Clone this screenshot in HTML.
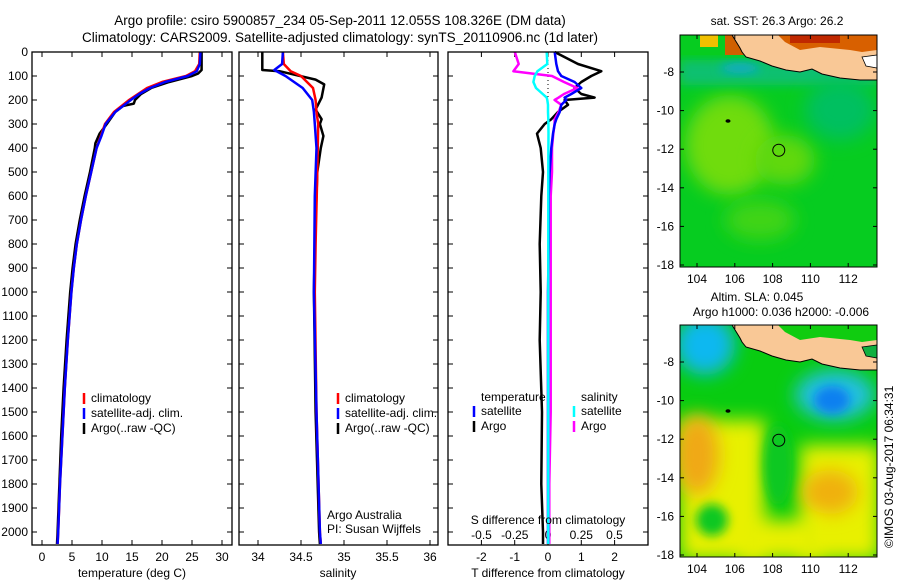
<!DOCTYPE html>
<html><head><meta charset="utf-8"><style>
body{margin:0;background:#fff;}
svg{display:block;font-family:"Liberation Sans",sans-serif;}
</style></head><body>
<svg id="c" width="900" height="580" viewBox="0 0 900 580">
<defs>
<filter id="bl" x="-50%" y="-50%" width="200%" height="200%"><feGaussianBlur stdDeviation="9"/></filter>
<filter id="bl2" x="-50%" y="-50%" width="200%" height="200%"><feGaussianBlur stdDeviation="5"/></filter>
<clipPath id="m1"><rect x="680" y="35" width="197" height="232"/></clipPath>
<clipPath id="m2"><rect x="680" y="325" width="197" height="232"/></clipPath>
</defs>
<text x="340" y="25" font-size="13.5" text-anchor="middle">Argo profile: csiro 5900857_234 05-Sep-2011 12.055S 108.326E (DM data)</text>
<text x="340" y="42" font-size="13.5" text-anchor="middle">Climatology: CARS2009. Satellite-adjusted climatology: synTS_20110906.nc (1d later)</text>
<g id="g1"></g>
<g id="g2"></g>
<g id="g3"></g>
<g id="map1" clip-path="url(#m1)">
<rect x="680" y="35" width="197" height="232" fill="#06cc20"/>
<ellipse cx="730" cy="145" rx="45" ry="50" fill="#70dc10" filter="url(#bl)"/>
<ellipse cx="785" cy="160" rx="30" ry="25" fill="#60d810" filter="url(#bl)"/>
<ellipse cx="760" cy="220" rx="35" ry="20" fill="#40d418" filter="url(#bl)"/>
<rect x="680" y="60" width="197" height="25" fill="#08c070" filter="url(#bl2)"/>
<ellipse cx="840" cy="110" rx="35" ry="30" fill="#05c060" filter="url(#bl)"/>
<ellipse cx="740" cy="68" rx="20" ry="5" fill="#10a8d0" filter="url(#bl2)"/>
<rect x="680" y="35" width="197" height="20" fill="#d06000"/>
<rect x="680" y="35" width="45" height="20" fill="#06cc20"/>
<rect x="700" y="35" width="18" height="12" fill="#f0c000"/>
<rect x="770" y="35" width="80" height="10" fill="#c03000"/>
</g>
<g id="map2" clip-path="url(#m2)">
<rect x="680" y="325" width="197" height="232" fill="#08cc10"/>
<rect x="680" y="420" width="85" height="140" fill="#e8f000" filter="url(#bl)"/>
<ellipse cx="697" cy="455" rx="22" ry="40" fill="#f0a818" filter="url(#bl)"/>
<rect x="800" y="445" width="80" height="115" fill="#e8f000" filter="url(#bl)"/>
<ellipse cx="830" cy="492" rx="28" ry="22" fill="#f0b010" filter="url(#bl)"/>
<rect x="740" y="520" width="80" height="40" fill="#e8f000" filter="url(#bl)"/>
<ellipse cx="712" cy="520" rx="16" ry="16" fill="#08c820" filter="url(#bl2)"/>
<ellipse cx="778" cy="465" rx="14" ry="40" fill="#08c820" filter="url(#bl2)"/>
<ellipse cx="835" cy="395" rx="40" ry="25" fill="#20c0e0" filter="url(#bl)"/>
<ellipse cx="832" cy="400" rx="18" ry="14" fill="#1080f0" filter="url(#bl2)"/>
<ellipse cx="705" cy="345" rx="30" ry="30" fill="#10b8f0" filter="url(#bl)"/>
</g>
<g id="maps-fg"></g>
<text transform="translate(893,548) rotate(-90)" font-size="12">©IMOS 03-Aug-2017 06:34:31</text>
</svg>
<script>
const NS="http://www.w3.org/2000/svg";
function mk(tag,attrs,parent,txt){const e=document.createElementNS(NS,tag);for(const k in attrs)e.setAttribute(k,attrs[k]);if(txt!==undefined)e.textContent=txt;parent.appendChild(e);return e;}

// ---- data ----
const depthTicks=[0,100,200,300,400,500,600,700,800,900,1000,1100,1200,1300,1400,1500,1600,1700,1800,1900,2000];
const tempTicks=[0,5,10,15,20,25,30];
const salTicks=[34,34.5,35,35.5,36];
const salTickLabels=["34","34.5","35","35.5","36"];
const tdTicks=[-2,-1,0,1,2];
const sdTicks=[-0.5,-0.25,0,0.25,0.5];
const sdTickLabels=["-0.5","-0.25","0","0.25","0.5"];

const tClimDepth=[0,50,80,100,125,150,175,200,250,300,350,400,500,600,700,800,900,1000,1200,1400,1600,1800,2000,2050];
const tClim=[26.3,26.2,25.5,24,20,17.5,16,14.5,12,10.5,9.8,9.1,8.2,7.3,6.5,5.8,5.3,4.9,4.3,3.8,3.4,3.0,2.7,2.6];
const tSat=[26.4,26.3,25.8,24.3,20.5,18,16.2,14.8,12.2,10.6,9.9,9.1,8.2,7.3,6.5,5.8,5.3,4.9,4.3,3.8,3.4,3.0,2.7,2.6];
const tArgoDepth=[0,75,90,100,125,150,175,200,215,225,250,300,340,380,400,500,600,700,800,900,1000,1200,1400,1600,1800,2000,2050];
const tArgo=[26.6,26.6,26.0,25,21.2,18.2,16.5,15.5,15.3,13.5,12.2,10.8,9.6,8.9,8.8,8.0,7.1,6.3,5.6,5.1,4.7,4.1,3.6,3.2,2.9,2.6,2.5];

const sClimDepth=[0,50,80,100,150,200,250,300,500,800,1000,1500,2000,2050];
const sClim=[34.29,34.30,34.38,34.5,34.64,34.67,34.68,34.70,34.69,34.67,34.66,34.68,34.72,34.73];
const sSatDepth=[0,50,75,100,150,200,250,300,400,600,1000,1500,2000,2050];
const sSat=[34.29,34.28,34.19,34.32,34.52,34.63,34.65,34.66,34.68,34.66,34.65,34.68,34.72,34.73];
const sArgoDepth=[0,75,80,115,135,190,240,280,300,350,400,500,800,1000,1500,2000,2050];
const sArgo=[34.05,34.05,34.25,34.67,34.77,34.74,34.67,34.74,34.72,34.76,34.73,34.69,34.66,34.65,34.67,34.71,34.72];

const dDepth=[0,50,80,100,125,150,175,190,200,220,250,280,300,340,400,500,600,800,1000,1200,1500,1800,2000,2050];
const dTSat=[0.2,0.25,0.3,0.4,0.8,1.0,0.7,0.5,0.55,0.4,0.35,0.25,0.2,0.15,0.1,0.05,0.02,0.02,0.0,0.0,0.0,0.0,0.0,0.0];
const dTArgo=[0.2,0.9,1.6,1.3,1.0,0.8,1.0,1.4,0.5,0.6,0.3,0.1,-0.1,-0.33,-0.22,-0.15,-0.2,-0.25,-0.22,-0.25,-0.18,-0.2,-0.15,-0.15];
const dSSat=[-0.01,-0.005,-0.08,-0.1,-0.11,-0.09,-0.04,-0.01,-0.005,0,0,0.002,0.003,0.004,0.003,0.002,0.002,0.002,0.002,0.002,0.002,0.002,0.002,0.002];
const dSArgo=[-0.25,-0.22,-0.26,0.03,0.12,0.22,0.12,0.08,0.05,0.1,0.08,0.05,0.05,0.04,0.03,0.03,0.02,0.02,0.02,0.02,0.02,0.01,0.01,0.01];

// ---- axes ----
const Y0=52, PY=0.24;
const yD=d=>Y0+d*PY;
const xT=t=>42+t*6;
const xS=s=>258+(s-34)*86;
const xTD=t=>548+t*33.3;
const xSD=s=>548+s*133;

function poly(g,xs,ds,fx,color,w,name){
  const pts=xs.map((v,i)=>fx(v).toFixed(1)+","+yD(ds[i]).toFixed(1)).join(" ");
  const p=mk("polyline",{points:pts,fill:"none",stroke:color,"stroke-width":w,"stroke-linejoin":"round"},g);
  
  
}
function frame(g,x0,x1,name){
  const r=mk("rect",{x:x0,y:Y0,width:x1-x0,height:493,fill:"none",stroke:"#000","stroke-width":1.3},g);
  
  
}
function xticks(g,x0,x1,vals,labels,fx,ly,top,name){
  vals.forEach((v,i)=>{
    const x=fx(v);
    mk("line",{x1:x,x2:x,y1:545,y2:540,stroke:"#000"},g);
    if(top) mk("line",{x1:x,x2:x,y1:Y0,y2:Y0+5,stroke:"#000"},g);
    const t=mk("text",{x:x,y:ly,"font-size":12,"text-anchor":"middle"},g,labels[i]);
    
    
  });
}
function yticks(g,x0,x1,lab){
  depthTicks.forEach(d=>{
    const y=yD(d);
    mk("line",{x1:x0,x2:x0+5,y1:y,y2:y,stroke:"#000"},g);
    mk("line",{x1:x1,x2:x1-5,y1:y,y2:y,stroke:"#000"},g);
    if(lab){const t=mk("text",{x:28,y:y+4,"font-size":12,"text-anchor":"end"},g,String(d));
      
      }
  });
}
function legend(g,x,y,items){
  items.forEach((it,i)=>{
    const yy=y+i*15;
    mk("line",{x1:x,x2:x,y1:yy-9,y2:yy+2,stroke:it[1],"stroke-width":2.5},g);
    const t=mk("text",{x:x+7,y:yy,"font-size":12},g,it[0]);
    
    
  });
}

// panel 1
const g1=document.getElementById("g1");
yticks(g1,32,232,true);
xticks(g1,32,232,tempTicks,tempTicks.map(String),xT,561,true,'temperature-tick-label');
poly(g1,tArgo,tArgoDepth,xT,"#000",2.5,"argo-temperature-line");
poly(g1,tClim,tClimDepth,xT,"#f00",2.5,"climatology-temperature-line");
poly(g1,tSat,tClimDepth,xT,"#00f",2.5,"satellite-temperature-line");
frame(g1,32,232,"temperature-plot-frame");
mk("text",{x:132,y:577,"font-size":12,"text-anchor":"middle"},g1,"temperature (deg C)");
legend(g1,84,402,[["climatology","#f00"],["satellite-adj. clim.","#00f"],["Argo(..raw -QC)","#000"]]);

// panel 2
const g2=document.getElementById("g2");
yticks(g2,239,438,false);
xticks(g2,239,438,salTicks,salTickLabels,xS,561,true,'salinity-tick-label');
poly(g2,sArgo,sArgoDepth,xS,"#000",2.5,"argo-salinity-line");
poly(g2,sClim,sClimDepth,xS,"#f00",2.5,"climatology-salinity-line");
poly(g2,sSat,sSatDepth,xS,"#00f",2.5,"satellite-salinity-line");
frame(g2,239,438,"salinity-plot-frame");
mk("text",{x:338,y:577,"font-size":12,"text-anchor":"middle"},g2,"salinity");
legend(g2,338,402,[["climatology","#f00"],["satellite-adj. clim.","#00f"],["Argo(..raw -QC)","#000"]]);
mk("text",{x:327,y:519,"font-size":12},g2,"Argo Australia");
mk("text",{x:327,y:533,"font-size":12},g2,"PI: Susan Wijffels");

// panel 3
const g3=document.getElementById("g3");
yticks(g3,448,648,false);
mk("line",{x1:548,x2:548,y1:Y0,y2:112,stroke:"#000","stroke-dasharray":"1,3"},g3);
xticks(g3,448,648,tdTicks,tdTicks.map(String),xTD,561,true,'t-diff-tick-label');
sdTicks.forEach((v,i)=>{const t=mk("text",{x:xSD(v),y:539,"font-size":12,"text-anchor":"middle"},g3,sdTickLabels[i]);
  });
poly(g3,dTArgo,dDepth,xTD,"#000",2.5,"argo-t-diff-line");
poly(g3,dSArgo,dDepth,xSD,"#f0f",2.5,"argo-s-diff-line");
poly(g3,dTSat,dDepth,xTD,"#00f",2.5,"satellite-t-diff-line");
poly(g3,dSSat,dDepth,xSD,"#0ff",2.5,"satellite-s-diff-line");
frame(g3,448,648,"difference-plot-frame");
mk("text",{x:548,y:524,"font-size":12,"text-anchor":"middle"},g3,"S difference from climatology");
mk("text",{x:548,y:577,"font-size":12,"text-anchor":"middle"},g3,"T difference from climatology");
mk("text",{x:481,y:401,"font-size":12},g3,"temperature");
mk("text",{x:581,y:401,"font-size":12},g3,"salinity");
legend(g3,474,415,[["satellite","#00f"],["Argo","#000"]]);
legend(g3,574,415,[["satellite","#0ff"],["Argo","#f0f"]]);

// maps
const mf=document.getElementById("maps-fg");
const lonTicks=[104,106,108,110,112], latTicks=[-8,-10,-12,-14,-16,-18];
const xLon=l=>697+(l-104)*18.9;
const yLat=(l,off)=>off+72+(-8-l)*19.3;
const argoLon=108.326, argoLat=-12.055;
function coastPts(off){
  return [[732,35],[740,48],[742,52],[746,57],[760,61],[772,66],[786,70],[800,72],[812,69],[822,74],[840,78],[860,80],[877,80],[877,35]].map(p=>p[0]+","+(p[1]+off)).join(" ");
}
[[0,"sat. SST: 26.3 Argo: 26.2",null],[290,"Altim. SLA: 0.045","Argo h1000: 0.036 h2000: -0.006"]].forEach((m,k)=>{
  const off=m[0];
  const land=mk("polygon",{points:coastPts(off),fill:"#f9c896",stroke:"#000","stroke-width":1},mf);
  
  if(k===0){mk("polygon",{points:"778,35 785,42 800,50 820,47 850,50 862,52 877,50 877,35",fill:"#d86000"},mf);
    mk("rect",{x:790,y:35,width:50,height:8,fill:"#c02800"},mf);}
  else mk("polygon",{points:"778,325 785,332 800,340 820,337 850,340 862,342 877,340 877,325",fill:"#10cc10"},mf);
  mk("polygon",{points:(862+","+(57+off))+" "+(877+","+(55+off))+" "+(877+","+(68+off))+" "+(866+","+(66+off)),fill:k?"#10b040":"#fff",stroke:"#000","stroke-width":0.8},mf);
  mk("rect",{x:680,y:35+off,width:197,height:232,fill:"none",stroke:"#000","stroke-width":1},mf);
  lonTicks.forEach(l=>{const x=xLon(l);
    mk("line",{x1:x,x2:x,y1:267+off,y2:263+off,stroke:"#000"},mf);
    mk("line",{x1:x,x2:x,y1:35+off,y2:39+off,stroke:"#000"},mf);
    const t=mk("text",{x:x,y:283+off,"font-size":12,"text-anchor":"middle"},mf,String(l));
    });
  latTicks.forEach(l=>{const y=yLat(l,off);
    mk("line",{x1:680,x2:684,y1:y,y2:y,stroke:"#000"},mf);
    mk("line",{x1:877,x2:873,y1:y,y2:y,stroke:"#000"},mf);
    const t=mk("text",{x:674,y:y+4,"font-size":12,"text-anchor":"end"},mf,String(l));
    });
  mk("ellipse",{cx:728,cy:121+off,rx:2.5,ry:1.8,fill:"#000"},mf);
  const c=mk("circle",{cx:xLon(argoLon),cy:yLat(argoLat,off),r:6,fill:"none",stroke:"#000","stroke-width":1},mf);
  
  if(m[2]){mk("text",{x:757,y:301,"font-size":12,"text-anchor":"middle"},mf,m[1]);
    mk("text",{x:781,y:316,"font-size":12,"text-anchor":"middle"},mf,m[2]);}
  else mk("text",{x:777,y:25,"font-size":12,"text-anchor":"middle"},mf,m[1]);
});
</script>
</body></html>
